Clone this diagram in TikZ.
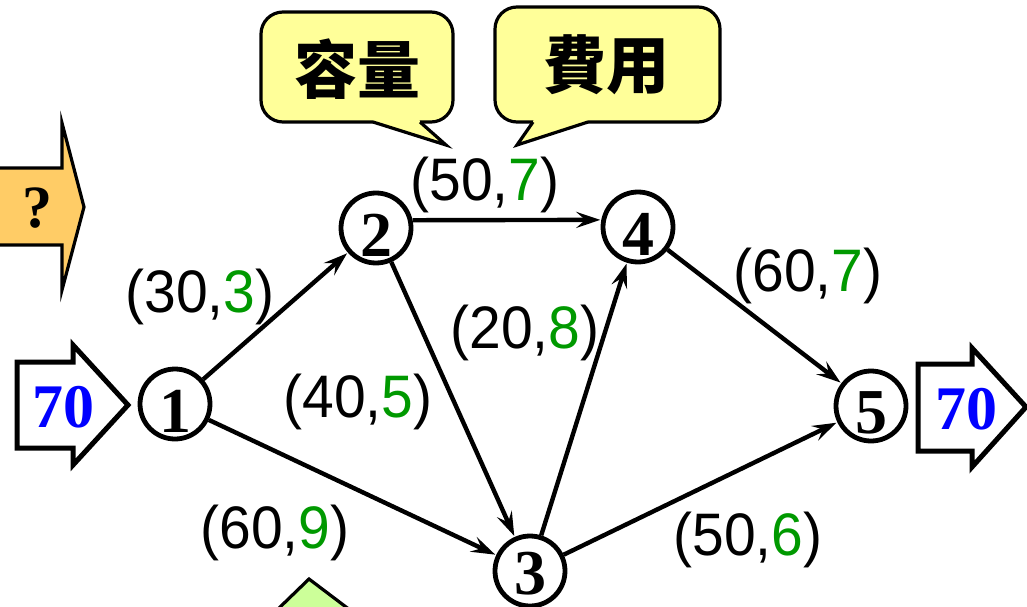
\documentclass[tikz,border=0pt]{standalone}
\usepackage{fontspec}
\usetikzlibrary{arrows.meta}
\newfontfamily\lsans{Liberation Sans}
\newfontfamily\lserif{Liberation Serif}
\newfontfamily\cjk{Noto Sans CJK TC}
\definecolor{cgreen}{RGB}{0,153,0}
\definecolor{cblue}{RGB}{0,0,255}
\definecolor{cyellow}{RGB}{255,255,153}
\definecolor{corange}{RGB}{255,204,102}
\definecolor{clgreen}{RGB}{204,255,153}
\tikzset{
  vtx/.style={circle,draw=black,line width=4.8pt,minimum size=70pt,inner sep=0pt},
  vnum/.style={inner sep=0pt,yshift=-7pt,font=\lserif\bfseries\fontsize{64}{64}\selectfont},
  edge/.style={line width=4.4pt,-{Stealth[length=24pt,width=16pt,inset=9pt]},shorten >=1pt},
  elabel/.style={font=\lsans\fontsize{60}{60}\selectfont,inner sep=0pt,xscale=0.95},
  bigarrow/.style={draw=black,line width=5pt,fill=white,line join=miter},
  flowtext/.style={font=\lserif\bfseries\fontsize{62}{62}\selectfont,text=cblue,inner sep=0pt},
  callout/.style={draw=black,line width=3.2pt,fill=cyellow},
  cjktext/.style={font=\cjk\bfseries\fontsize{63}{63}\selectfont,inner sep=0pt}
}
\begin{document}
\begin{tikzpicture}[x=1pt,y=-1pt]
\useasboundingbox (0,0) rectangle (1027,607);
% callouts
\draw[callout,rounded corners=22] (261,12) rectangle (453,122);
\fill[cyellow] (374,118) -- (419,118) -- (420,122) -- (446,145) -- (373,122) -- cycle;
\draw[callout,fill=none,line join=miter] (373,122) -- (446,145) -- (420,122);
\draw[callout,rounded corners=22] (495,7) rectangle (720,122);
\fill[cyellow] (534,118) -- (587,118) -- (588,122) -- (517,145) -- (533,122) -- cycle;
\draw[callout,fill=none,line join=miter] (588,122) -- (517,145) -- (533,122);
\node[cjktext] (cap) at (357,69) {容量};
\node[cjktext] (cost) at (606,65) {費用};
% question arrow
\draw[draw=black,line width=3.2pt,fill=corange,line join=miter] (-5,168) -- (62,168) -- (62,123) -- (84,207) -- (62,290) -- (62,245) -- (-5,245) -- cycle;
\node[font=\lserif\bfseries\fontsize{60}{60}\selectfont,inner sep=0pt] (q) at (38,208) {?};
% in / out arrows
\draw[bigarrow] (17,362) -- (73,362) -- (73,345) -- (128,405) -- (73,465) -- (73,448) -- (17,448) -- cycle;
\node[flowtext] (in) at (63,407) {70};
\draw[bigarrow] (918,364) -- (972,364) -- (972,348) -- (1026,407) -- (972,467) -- (972,451) -- (918,451) -- cycle;
\node[flowtext] (out) at (966,409) {70};
% bottom green shape
\draw[draw=black,line width=3.2pt,fill=clgreen] (277,610) -- (309,579) -- (350,610);
% vertices
\node[vtx] (n1) at (175,404) {};
\node[vtx] (n2) at (376,228) {};
\node[vtx] (n3) at (530,571) {};
\node[vtx] (n4) at (638,227) {};
\node[vtx] (n5) at (871,406) {};
\node[vnum] (t1) at (n1) {1};
\node[vnum] (t2) at (n2) {2};
\node[vnum,yshift=4pt] (t3) at (n3) {3};
\node[vnum] (t4) at (n4) {4};
\node[vnum] (t5) at (n5) {5};
% edges
\draw[edge] (n1) -- (n2);
\draw[edge] (n1) -- (n3);
\draw[edge] (n2.12) -- (n4.169);
\draw[edge] (n2) -- (n3);
\draw[edge] (n3) -- (n4);
\draw[edge] (n4) -- (n5);
\draw[edge] (n3) -- (n5);
% labels
\node[elabel] (l12) at (200,297) {(30,\textcolor{cgreen}{3})};
\node[elabel] (l24) at (485,185) {(50,\textcolor{cgreen}{7})};
\node[elabel] (l23) at (358,402) {(40,\textcolor{cgreen}{5})};
\node[elabel] (l34) at (525,333) {(20,\textcolor{cgreen}{8})};
\node[elabel] (l13) at (275,533) {(60,\textcolor{cgreen}{9})};
\node[elabel] (l45) at (808,276) {(60,\textcolor{cgreen}{7})};
\node[elabel] (l35) at (748,540) {(50,\textcolor{cgreen}{6})};
\end{tikzpicture}
\end{document}
